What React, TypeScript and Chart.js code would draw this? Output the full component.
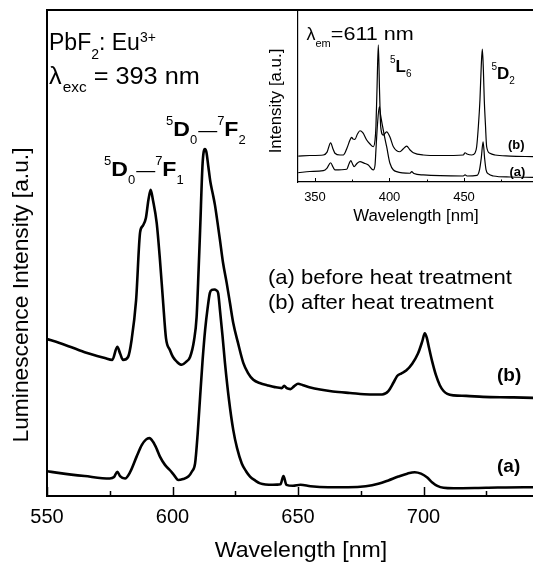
import React, { useEffect, useRef } from 'react';
import { Chart, registerables } from 'chart.js';
Chart.register(...registerables);

const FONT = '"Liberation Sans", Arial, Helvetica, sans-serif';

// ---- Main emission spectra (lambda_exc = 393 nm) ----
const mainWavelengthB = [550, 555, 565, 573, 576, 578, 579.2, 580.3, 582.3, 583.7, 585.5, 587.1, 588.2, 589.4, 590.4, 591.3, 592.2, 593.7, 595, 596.2, 597.4, 599, 600.2, 601.8, 603.7, 605.4, 607, 608.6, 609.6, 610.4, 611, 612, 612.9, 613.5, 614.3, 615.1, 616, 616.9, 617.9, 618.9, 620.1, 621.6, 622.9, 624.2, 626.1, 628.2, 630.1, 632.2, 635, 637.7, 640.8, 643.5, 644.5, 645.5, 647, 648.5, 650, 652, 654.5, 658.8, 663.9, 670.7, 678.7, 683.5, 686, 688, 689.5, 691.1, 693.1, 695.5, 697.8, 699.5, 700.5, 701.3, 702.2, 703.5, 705, 706.5, 708, 709.5, 712, 717, 723.7, 734.5, 743.6, 750];
const mainIntensityB = [32.3, 31.5, 29.6, 28.4, 28.0, 30.7, 29.2, 28.0, 28.6, 32.1, 40.3, 54.3, 55.6, 57.2, 60.9, 63.0, 60.9, 56.2, 48.6, 40.3, 32.5, 30.0, 28.6, 27.6, 27.0, 27.6, 28.6, 32.1, 36.8, 46.5, 54.7, 68.5, 71.4, 70.8, 67.7, 64.6, 62.3, 59.9, 56.4, 52.7, 48.1, 43.8, 39.7, 35.6, 31.5, 27.4, 25.3, 23.9, 23.2, 22.8, 22.4, 22.2, 22.7, 22.2, 22.0, 22.6, 23.1, 22.8, 22.4, 21.9, 21.5, 21.2, 20.9, 20.9, 21.6, 23.3, 24.7, 25.2, 25.8, 27.2, 29.3, 31.8, 33.5, 32.6, 30.5, 27.6, 24.8, 22.8, 21.6, 21.0, 20.7, 20.6, 20.4, 20.3, 20.2, 20.1];

const mainWavelengthA = [550, 555.2, 565, 575, 576.7, 578, 579.1, 581.1, 583.1, 585.7, 587.8, 589.4, 590.8, 592.3, 593.7, 595, 597, 599, 600.6, 602.3, 604.2, 606.3, 607.8, 609, 610, 611, 612, 613, 614, 614.9, 615.7, 616.7, 617.5, 618.2, 618.9, 619.9, 620.9, 622.5, 624.2, 625.7, 627.6, 629.3, 630.9, 632.9, 634.9, 640, 643, 644.2, 645.4, 648, 651, 655, 662, 670, 677, 682, 686, 690, 693.5, 696.5, 699, 701.5, 703.5, 705.5, 708, 712, 725, 740, 750];
const mainIntensityA = [5.1, 4.7, 4.1, 3.6, 3.9, 5.0, 4.1, 3.6, 4.9, 8.1, 10.5, 11.6, 11.9, 11.1, 9.7, 8.1, 6.4, 5.3, 4.3, 3.3, 3.5, 4.0, 5.1, 6.7, 12.6, 20.4, 28.0, 34.2, 38.7, 41.8, 42.4, 42.5, 42.3, 41.7, 38.3, 33.1, 27.4, 19.8, 13.6, 9.9, 6.7, 5.1, 4.0, 3.2, 2.6, 2.3, 2.4, 4.1, 2.3, 2.1, 2.3, 2.0, 1.8, 1.8, 2.0, 2.5, 3.2, 4.0, 4.6, 4.9, 4.6, 3.8, 2.8, 2.1, 1.7, 1.6, 1.7, 1.8, 1.8];

// ---- Inset excitation spectra (lambda_em = 611 nm) ----
const insetWavelengthB = [338.8, 346.6, 355.6, 358.1, 360.5, 362.1, 363.4, 366.8, 369.0, 371.5, 373.5, 374.6, 375.5, 376.8, 378.5, 380.2, 382.2, 384.7, 386.9, 389.1, 390.3, 390.9, 391.6, 392.5, 393.3, 394.1, 395.8, 398.1, 400.3, 402.6, 407.0, 409.1, 411.5, 413.8, 416.0, 422.7, 433.9, 449.5, 450.7, 452.0, 455.2, 457.4, 458.5, 459.7, 460.7, 461.6, 462.3, 463.0, 463.6, 464.4, 465.2, 467.4, 470.8, 480.9, 496.3];
const insetIntensityB = [15.1, 15.4, 15.7, 17.4, 22.8, 19.2, 16.7, 15.7, 15.7, 19.8, 24.4, 26.0, 25.0, 24.8, 27.9, 29.8, 28.5, 24.4, 22.1, 20.5, 24.4, 32.2, 53.5, 79.7, 53.5, 32.2, 27.3, 29.2, 26.2, 20.5, 17.6, 19.2, 20.9, 18.6, 17.0, 15.7, 15.4, 15.7, 17.0, 16.3, 15.7, 16.9, 20.5, 33.1, 47.7, 68.0, 77.2, 65.1, 47.7, 33.1, 20.5, 16.7, 15.7, 15.1, 14.7];

const insetWavelengthA = [338.8, 346.6, 355.6, 358.1, 360.5, 362.1, 363.4, 371.3, 372.8, 374.0, 375.2, 376.2, 378.2, 380.2, 382.9, 385.8, 389.1, 390.3, 390.9, 391.9, 393.2, 394.0, 395.4, 396.6, 398.1, 400.3, 404.8, 413.8, 414.9, 416.4, 422.7, 449.5, 450.7, 452.0, 458.7, 460.4, 461.6, 462.8, 463.8, 464.8, 466.4, 469.7, 480.9, 496.3];
const insetIntensityA = [5.4, 6.1, 6.6, 8.1, 11.2, 8.7, 7.0, 7.4, 10.5, 12.4, 10.5, 8.9, 10.8, 11.8, 11.0, 9.9, 7.0, 9.9, 18.6, 33.1, 43.8, 39.0, 32.2, 26.7, 20.5, 10.9, 6.0, 5.1, 6.0, 4.9, 4.1, 3.5, 4.2, 3.5, 3.8, 7.0, 14.0, 23.4, 14.0, 7.0, 4.7, 3.5, 2.9, 2.7];

// ---- Tick values ----
const mainMajorTicks = [550, 600, 650, 700];
const mainMinorTicks = [575, 625, 675, 725];
const insetMajorTicks = [350, 400, 450];
const insetMinorTicks = [375, 425, 475];

const MAIN_RANGE = [550, 750];
const INSET_RANGE = [338.6, 496.3];

type Seg = { t: string; size: number; bold?: boolean; dy?: number; gap?: number; sx?: number };

function font(size: number, bold?: boolean) {
  return `${bold ? 'bold ' : ''}${size}px ${FONT}`;
}

function drawRich(ctx: CanvasRenderingContext2D, x: number, y: number, segs: Seg[]) {
  let cx = x;
  ctx.textAlign = 'left';
  ctx.textBaseline = 'alphabetic';
  for (const s of segs) {
    cx += s.gap || 0;
    ctx.font = font(s.size, s.bold);
    const sx = s.sx ?? 1;
    ctx.save();
    ctx.translate(cx, y + (s.dy || 0));
    ctx.scale(sx, 1);
    ctx.fillText(s.t, 0, 0);
    ctx.restore();
    cx += ctx.measureText(s.t).width * sx;
  }
}

function drawCentered(ctx: CanvasRenderingContext2D, text: string, x: number, y: number, size: number, sx: number, rotate = false, bold = false) {
  ctx.save();
  ctx.translate(x, y);
  if (rotate) ctx.rotate(-Math.PI / 2);
  ctx.scale(sx, 1);
  ctx.font = font(size, bold);
  ctx.textAlign = 'center';
  ctx.textBaseline = 'alphabetic';
  ctx.fillText(text, 0, 0);
  ctx.restore();
}

function zip(xs: number[], ys: number[]) {
  return xs.map((x, i) => ({ x, y: ys[i] }));
}

function drawTicks(chart: any, major: number[], minor: number[], majLen: number, minLen: number, lw: number) {
  const { ctx, chartArea: ca } = chart;
  const xs = chart.scales.x;
  ctx.save();
  ctx.strokeStyle = '#000';
  ctx.lineWidth = lw;
  ctx.beginPath();
  for (const v of major) {
    const p = Math.round(xs.getPixelForValue(v)) + 0.5;
    ctx.moveTo(p, ca.bottom);
    ctx.lineTo(p, ca.bottom - majLen);
  }
  for (const v of minor) {
    const p = Math.round(xs.getPixelForValue(v)) + 0.5;
    ctx.moveTo(p, ca.bottom);
    ctx.lineTo(p, ca.bottom - minLen);
  }
  ctx.stroke();
  ctx.restore();
}

const mainDecor = {
  id: 'mainDecor',
  afterDraw(chart: any) {
    const { ctx, chartArea: ca } = chart;
    const xs = chart.scales.x;
    ctx.save();
    ctx.strokeStyle = '#000';
    ctx.lineWidth = 2;
    ctx.beginPath();
    ctx.moveTo(ca.left - 1, ca.top);
    ctx.lineTo(ca.right, ca.top);
    ctx.stroke();
    ctx.restore();

    drawTicks(chart, mainMajorTicks, mainMinorTicks, 9, 5, 1.5);

    ctx.save();
    ctx.fillStyle = '#000';
    ctx.font = font(20);
    ctx.textAlign = 'center';
    ctx.textBaseline = 'alphabetic';
    for (const v of mainMajorTicks) {
      ctx.fillText(String(v), xs.getPixelForValue(v), 523);
    }
    drawCentered(ctx, 'Wavelength [nm]', 301, 557, 22, 1.05);
    drawCentered(ctx, 'Luminescence Intensity [a.u.]', 28, 295, 22, 1.035, true);

    drawRich(ctx, 49, 49.5, [
      { t: 'PbF', size: 23 },
      { t: '2', size: 14, dy: 9.5 },
      { t: ': Eu', size: 23 },
      { t: '3+', size: 14, dy: -8 },
    ]);
    drawRich(ctx, 49, 83.5, [
      { t: 'λ', size: 23, sx: 1.1 },
      { t: 'exc', size: 14, dy: 8.5, gap: 1, sx: 1.1 },
      { t: ' = 393 nm', size: 23, sx: 1.1 },
    ]);
    const trans = (x: number, y: number, last: string) =>
      drawRich(ctx, x, y, [
        { t: '5', size: 13, dy: -11 },
        { t: 'D', size: 21, bold: true, sx: 1.1 },
        { t: '0', size: 13, dy: 8 },
        { t: '—', size: 19, gap: 1 },
        { t: '7', size: 13, dy: -11 },
        { t: 'F', size: 21, bold: true, sx: 1.1 },
        { t: last, size: 13, dy: 8 },
      ]);
    trans(166, 136, '2');
    trans(104, 176, '1');

    drawRich(ctx, 268, 283.5, [{ t: '(a) before heat treatment', size: 21, sx: 1.05 }]);
    drawRich(ctx, 268, 308.5, [{ t: '(b) after heat treatment', size: 21, sx: 1.05 }]);
    drawRich(ctx, 497, 380.5, [{ t: '(b)', size: 19, bold: true }]);
    drawRich(ctx, 497, 472, [{ t: '(a)', size: 19, bold: true }]);
    ctx.restore();
  },
};

const INSET_LEFT = 250;

const insetDecor = {
  id: 'insetDecor',
  afterDraw(chart: any) {
    const { ctx } = chart;
    const xs = chart.scales.x;
    drawTicks(chart, insetMajorTicks, insetMinorTicks, 4, 2.5, 1);
    ctx.save();
    ctx.fillStyle = '#000';
    ctx.font = font(13);
    ctx.textAlign = 'center';
    ctx.textBaseline = 'alphabetic';
    for (const v of insetMajorTicks) {
      ctx.fillText(String(v), xs.getPixelForValue(v), 201);
    }
    ctx.translate(-INSET_LEFT, 0);
    drawCentered(ctx, 'Wavelength [nm]', 416, 221, 16, 1.05);
    drawCentered(ctx, 'Intensity [a.u.]', 281, 101, 16, 1.05, true);
    drawRich(ctx, 306.5, 40, [
      { t: 'λ', size: 18 },
      { t: 'em', size: 11, dy: 6.5 },
      { t: '=611 nm', size: 18, sx: 1.2 },
    ]);
    drawRich(ctx, 390, 72, [
      { t: '5', size: 10, dy: -9 },
      { t: 'L', size: 17, bold: true },
      { t: '6', size: 10, dy: 5 },
    ]);
    drawRich(ctx, 491.5, 78.5, [
      { t: '5', size: 10, dy: -9 },
      { t: 'D', size: 17, bold: true },
      { t: '2', size: 10, dy: 5 },
    ]);
    drawRich(ctx, 508, 148.5, [{ t: '(b)', size: 13, bold: true }]);
    drawRich(ctx, 509.5, 175.5, [{ t: '(a)', size: 13, bold: true }]);
    ctx.restore();
  },
};

function lineDataset(xs: number[], ys: number[], width: number) {
  return {
    data: zip(xs, ys),
    borderColor: '#000',
    borderWidth: width,
    pointRadius: 0,
    fill: false,
    cubicInterpolationMode: 'monotone' as const,
    borderJoinStyle: 'round' as const,
  };
}

function baseOptions(xr: number[], yWidth: number, xHeight: number, border: number) {
  return {
    responsive: false,
    animation: false as const,
    devicePixelRatio: 1,
    layout: { padding: { top: 10, left: 0, right: 0, bottom: 0 } },
    plugins: { legend: { display: false }, tooltip: { enabled: false } },
    events: [] as any[],
    scales: {
      x: {
        type: 'linear' as const,
        min: xr[0],
        max: xr[1],
        grid: { display: false, drawTicks: false },
        ticks: { display: false },
        border: { display: true, color: '#000', width: border },
        afterFit: (s: any) => { s.height = xHeight; },
      },
      y: {
        type: 'linear' as const,
        min: 0,
        max: 100,
        grid: { display: false, drawTicks: false },
        ticks: { display: false },
        border: { display: true, color: '#000', width: border },
        afterFit: (s: any) => { s.width = yWidth; },
      },
    },
  };
}

export default function App() {
  const mainRef = useRef<HTMLCanvasElement>(null);
  const insetRef = useRef<HTMLCanvasElement>(null);

  useEffect(() => {
    const main = new Chart(mainRef.current as HTMLCanvasElement, {
      type: 'line',
      data: {
        datasets: [
          lineDataset(mainWavelengthB, mainIntensityB, 2.6),
          lineDataset(mainWavelengthA, mainIntensityA, 2.6),
        ],
      },
      options: baseOptions(MAIN_RANGE, 47, 66, 2) as any,
      plugins: [mainDecor],
    });
    const inset = new Chart(insetRef.current as HTMLCanvasElement, {
      type: 'line',
      data: {
        datasets: [
          lineDataset(insetWavelengthB, insetIntensityB, 1.2),
          lineDataset(insetWavelengthA, insetIntensityA, 1.2),
        ],
      },
      options: baseOptions(INSET_RANGE, 48, 48, 1.2) as any,
      plugins: [insetDecor],
    });
    return () => {
      main.destroy();
      inset.destroy();
    };
  }, []);

  return (
    <div style={{ position: 'fixed', left: 0, top: 0, width: 533, height: 562, overflow: 'hidden', background: '#fff' }}>
      <canvas ref={mainRef} width={549} height={562} style={{ position: 'absolute', left: 0, top: 0, width: 549, height: 562 }} />
      <canvas ref={insetRef} width={283} height={230} style={{ position: 'absolute', left: INSET_LEFT, top: 0, width: 283, height: 230 }} />
    </div>
  );
}
